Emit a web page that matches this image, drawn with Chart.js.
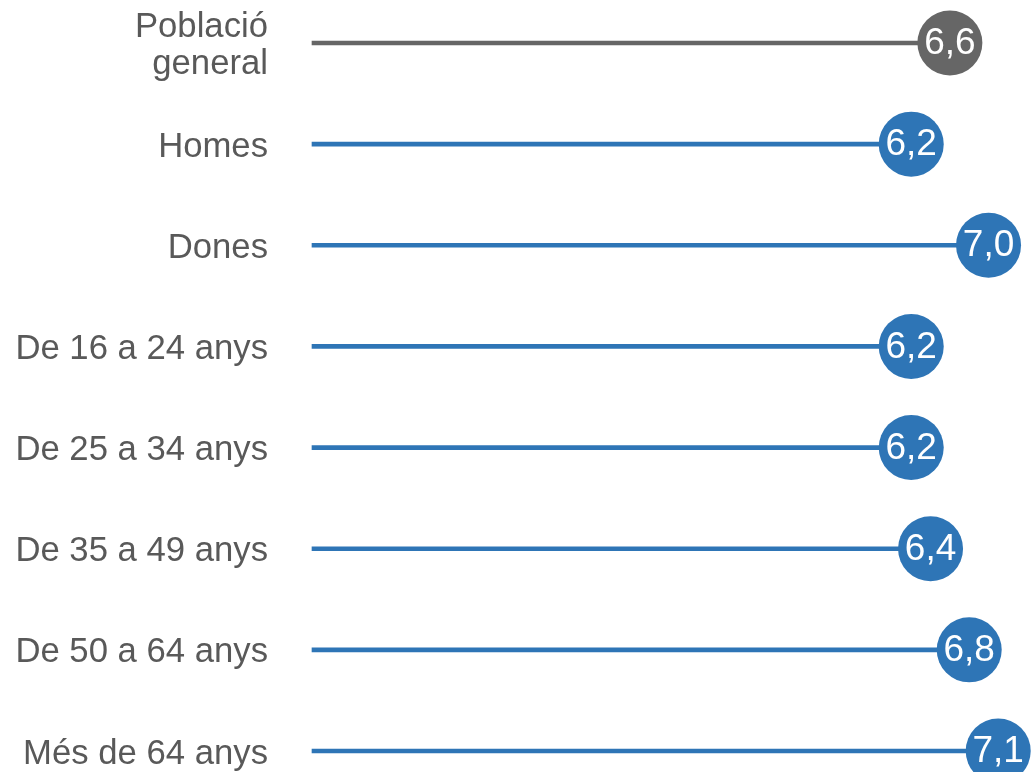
<!DOCTYPE html>
<html>
<head>
<meta charset="utf-8">
<script src="https://cdn.jsdelivr.net/npm/chart.js@4"></script>
<style>
    body { margin: 0; background: #ffffff; }
    #wrap { width: 1033px; height: 772px; position: relative; }
</style>
</head>
<body>
<div id="wrap"><canvas id="lollipopChart"></canvas></div>
<script>
const categories = [['Població', 'general'], 'Homes', 'Dones', 'De 16 a 24 anys', 'De 25 a 34 anys', 'De 35 a 49 anys', 'De 50 a 64 anys', 'Més de 64 anys'];
const values = [6.6, 6.2, 7.0, 6.2, 6.2, 6.4, 6.8, 7.1];

const GREY = '#666666';
const BLUE = '#2E75B6';
const colors = values.map((v, i) => i === 0 ? GREY : BLUE);

// values written inside the circles
const bubbleLabels = {
    id: 'bubbleLabels',
    afterDatasetsDraw(chart) {
        const ctx = chart.ctx;
        const meta = chart.getDatasetMeta(1);
        ctx.save();
        ctx.fillStyle = '#ffffff';
        ctx.font = '37px "Liberation Sans", Arial, sans-serif';
        ctx.textAlign = 'center';
        ctx.textBaseline = 'middle';
        meta.data.forEach((pt, i) => {
            ctx.fillText(values[i].toFixed(1).replace('.', ','), pt.x, pt.y + 1);
        });
        ctx.restore();
    }
};

const chartItem = document.getElementById('lollipopChart');
if (chartItem) {
    const chart = new Chart(chartItem, {
        type: 'bar',
        data: {
            labels: categories,
            datasets: [{
                type: 'bar',
                data: values,
                backgroundColor: colors,
                barThickness: 4,
                clip: false,
                order: 2
            }, {
                type: 'line',
                data: values,
                showLine: false,
                pointRadius: 32.5,
                pointHoverRadius: 32.5,
                pointBorderWidth: 0,
                pointBackgroundColor: colors,
                pointBorderColor: colors,
                clip: false,
                order: 1
            }]
        },
        options: {
            indexAxis: 'y',
            responsive: true,
            maintainAspectRatio: false,
            animation: false,
            layout: {
                autoPadding: false,
                padding: { top: 43, bottom: 21, left: 0, right: 0 }
            },
            plugins: {
                legend: { display: false },
                tooltip: { enabled: false }
            },
            scales: {
                x: {
                    display: false,
                    min: 0,
                    max: 7.46
                },
                y: {
                    offset: false,
                    grid: { display: false, drawTicks: false },
                    border: { display: false },
                    ticks: {
                        padding: 44,
                        labelOffset: 3,
                        color: '#595959',
                        font: { family: '"Liberation Sans", Arial, sans-serif', size: 34.7, lineHeight: 1.07 }
                    },
                    afterFit(scale) {
                        scale.width = 312;
                        scale.paddingTop = 0;
                        scale.paddingBottom = 0;
                    }
                }
            }
        },
        plugins: [bubbleLabels]
    });
}
</script>
</body>
</html>
